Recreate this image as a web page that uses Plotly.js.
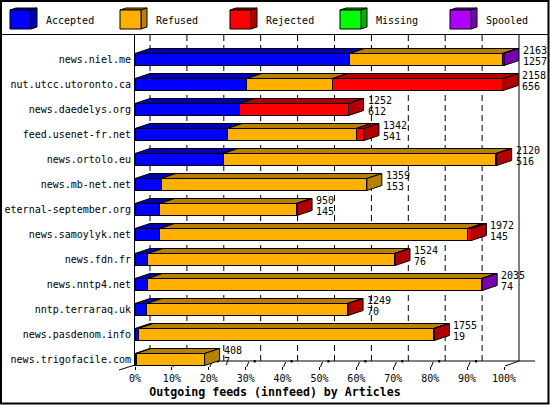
<!DOCTYPE html>
<html><head><meta charset="utf-8">
<script src="https://cdn.plot.ly/plotly-3.0.1.min.js"></script>
<style>html,body{margin:0;padding:0;background:#fff}#chart{width:550px;height:405px}</style>
</head><body><div id="chart"></div>
<script>
// ---- data ----
const hosts = ['news.niel.me','nut.utcc.utoronto.ca','news.daedelys.org','feed.usenet-fr.net','news.ortolo.eu','news.mb-net.net','eternal-september.org','news.samoylyk.net','news.fdn.fr','news.nntp4.net','nntp.terraraq.uk','news.pasdenom.info','news.trigofacile.com'];
const seriesNames = ['Accepted','Refused','Rejected','Missing','Spooled'];
const accepted = [1257, 656, 612, 541, 516, 153, 145, 145, 76, 74, 70, 19, 7];
const refused  = [ 896, 501,   0, 755,1600,1206, 800,1805,1445,1956,1176,1731,401];
const rejected = [   0,1001, 640,  46,   4,   0,   5,  22,   3,   0,   3,   5,  0];
const missing  = [   0,   0,   0,   0,   0,   0,   0,   0,   0,   0,   0,   0,  0];
const spooled  = [  10,   0,   0,   0,   0,   0,   0,   0,   0,   5,   0,   0,  0];
const tickValues = [0,10,20,30,40,50,60,70,80,90,100];
const tickLabels = ['0%','10%','20%','30%','40%','50%','60%','70%','80%','90%','100%'];
const chartTitle = 'Outgoing feeds (innfeed) by Articles';

// ---- styles ----
const frontColors = ['#0000ff','#ffb000','#ff0000','#00ff00','#b000ff'];
const darkColors  = ['#0000b0','#b88000','#b00000','#00b000','#7800b0'];
const FONT = 'DejaVu Sans Mono, Liberation Mono, monospace';
const W = 550, H = 405, L = 135, R = 519, T = 35, B = 366;
const pxPerPct = 3.69, pitch = 25, firstCenter = 59.5;
const DXpx = 15, DYpx = 5;
const dxU = DXpx / pxPerPct, dyU = DYpx / pitch, halfW = 0.24;
const xMax = (R - L) / pxPerPct;
const nRows = hosts.length;
const yRange = [nRows - 1 + (B - (firstCenter + pitch * (nRows - 1))) / pitch, -(firstCenter - T) / pitch];

const series = [accepted, refused, rejected, missing, spooled];
const totals = hosts.map((h, i) => series.reduce((a, s) => a + s[i], 0));
const maxTotal = Math.max(...totals);
const pct = series.map(arr => arr.map(v => v / maxTotal * 100));
const idx = hosts.map((h, i) => i);

const px = p => (p - L) / (R - L);
const py = p => (B - p) / (B - T);

const traces = [];
series.forEach((arr, s) => {
  traces.push({type:'bar', orientation:'h', y: idx, x: pct[s], width: 2*halfW, name: seriesNames[s],
    marker:{color: frontColors[s], line:{color:'#000', width:1}}, hoverinfo:'skip', showlegend:false});
});
// top faces and side faces
const topX = series.map(() => []), topY = series.map(() => []);
const sideX = series.map(() => []), sideY = series.map(() => []);
idx.forEach(i => {
  let c = 0, last = -1;
  series.forEach((arr, s) => {
    const v = pct[s][i];
    if (arr[i] > 0) {
      const yt = i - halfW;
      topX[s].push(c, c + v, c + v + dxU, c + dxU, c, null);
      topY[s].push(yt, yt, yt - dyU, yt - dyU, yt, null);
      last = s;
    }
    c += v;
  });
  if (last >= 0) {
    sideX[last].push(c, c, c + dxU, c + dxU, c, null);
    sideY[last].push(i - halfW, i + halfW, i + halfW - dyU, i - halfW - dyU, i - halfW, null);
  }
});
series.forEach((arr, s) => {
  [[topX[s], topY[s]], [sideX[s], sideY[s]]].forEach(([xs, ys]) => {
    if (xs.length) traces.push({type:'scatter', mode:'lines', x: xs, y: ys, fill:'toself',
      fillcolor: darkColors[s], line:{color:'#000', width:1}, hoverinfo:'skip', showlegend:false, connectgaps:false});
  });
});

const shapes = [];
const annotations = [];
// dashed back-plane gridlines
tickValues.forEach(v => {
  if (v < 100) shapes.push({type:'line', layer:'below', xref:'x', yref:'paper', x0: v + dxU, x1: v + dxU, y0: py(361), y1: 1,
    line:{color:'#000', width:1, dash:'6px,4px'}});
});
// right border of back plane
shapes.push({type:'line', xref:'paper', yref:'paper', x0: px(R), x1: px(R), y0: py(361), y1: 1, line:{color:'#000', width:1}});
// floor
shapes.push({type:'line', xref:'paper', yref:'paper', x0: px(L), x1: px(535), y0: py(361), y1: py(361), line:{color:'#000', width:1}, layer:'below'});
shapes.push({type:'line', xref:'paper', yref:'paper', x0: px(119), x1: px(L), y0: py(370), y1: py(365), line:{color:'#000', width:1}});
shapes.push({type:'line', xref:'paper', yref:'paper', x0: px(L + 100*pxPerPct + 1), x1: px(R), y0: py(366), y1: py(361), line:{color:'#000', width:1}});
tickValues.forEach(v => {
  const xf = L + v * pxPerPct;
  if (v > 0 && v < 100) {
    shapes.push({type:'line', layer:'below', xref:'paper', yref:'paper', x0: px(xf + 1), x1: px(xf + 3), y0: py(367), y1: py(362), line:{color:'#000', width:1}});
    shapes.push({type:'rect', layer:'below', xref:'paper', yref:'paper', x0: px(xf + 8), x1: px(xf + 10), y0: py(362.5), y1: py(360), fillcolor:'#000', line:{width:0}});
  }
});
// legend separator and outer border
shapes.push({type:'line', xref:'paper', yref:'paper', x0: px(1), x1: px(548), y0: py(34.5), y1: py(34.5), line:{color:'#000', width:1}});
shapes.push({type:'rect', xref:'paper', yref:'paper', x0: px(1), x1: px(548.5), y0: py(403.5), y1: py(1), line:{color:'#000', width:2}});
// legend cubes
seriesNames.forEach((name, s) => {
  const x0 = 10 + 110 * s, x1 = x0 + 21, y0 = 10, y1 = 29, d = 6, e = 2;
  shapes.push({type:'path', xref:'paper', yref:'paper', fillcolor: darkColors[s], line:{color:'#000', width:1},
    path:`M${px(x0)},${py(y0)} L${px(x1)},${py(y0)} L${px(x1+d)},${py(y0-e)} L${px(x0+d)},${py(y0-e)} Z`});
  shapes.push({type:'path', xref:'paper', yref:'paper', fillcolor: darkColors[s], line:{color:'#000', width:1},
    path:`M${px(x1)},${py(y0)} L${px(x1)},${py(y1)} L${px(x1+d)},${py(y1-e)} L${px(x1+d)},${py(y0-e)} Z`});
  shapes.push({type:'rect', xref:'paper', yref:'paper', x0: px(x0), x1: px(x1), y0: py(y1), y1: py(y0), fillcolor: frontColors[s], line:{color:'#000', width:1}});
  annotations.push({xref:'paper', yref:'paper', x: px(x0 + 34), y: py(20), xanchor:'left', yanchor:'middle', showarrow:false,
    text: name, font:{family: FONT, size: 10, color:'#000'}});
});
// value labels
idx.forEach(i => {
  const xe = totals[i] / maxTotal * 100;
  annotations.push({x: xe, y: i, xref:'x', yref:'y', xanchor:'left', yanchor:'middle', xshift: DXpx + 2, yshift: 9.5,
    showarrow:false, text: String(totals[i]), font:{family: FONT, size: 10, color:'#000'}});
  annotations.push({x: xe, y: i, xref:'x', yref:'y', xanchor:'left', yanchor:'middle', xshift: DXpx + 2, yshift: -2,
    showarrow:false, text: String(accepted[i]), font:{family: FONT, size: 10, color:'#000'}});
});

const layout = {
  width: W, height: H, autosize:false,
  margin:{l: L, r: W - R, t: T, b: H - B, pad: 0},
  paper_bgcolor:'#fff', plot_bgcolor:'#fff',
  barmode:'stack', bargap: 0,
  showlegend:false,
  font:{family: FONT, size: 10, color:'#000'},
  title:{text: chartTitle, x: 0.5, xref:'container', xanchor:'center', y: 1 - 391.5 / H, yref:'container', yanchor:'middle',
    font:{family: FONT, size: 11.6, weight:'bold', color:'#000'}},
  xaxis:{range:[0, xMax], tickvals: tickValues, ticktext: tickLabels, showgrid:false, zeroline:false, showline:false,
    ticks:'outside', ticklen:3, tickcolor:'#000', tickwidth:1, tickfont:{family: FONT, size: 10, color:'#000'}, fixedrange:true},
  yaxis:{range: yRange, tickvals: idx, ticktext: hosts, showgrid:false, zeroline:false, showline:true, linecolor:'#000', linewidth:1,
    ticks:'', ticklabelstandoff: 1, tickfont:{family: FONT, size: 10, color:'#000'}, fixedrange:true},
  shapes, annotations
};
Plotly.newPlot('chart', traces, layout, {displayModeBar:false, staticPlot:true});
</script>
</body></html>
